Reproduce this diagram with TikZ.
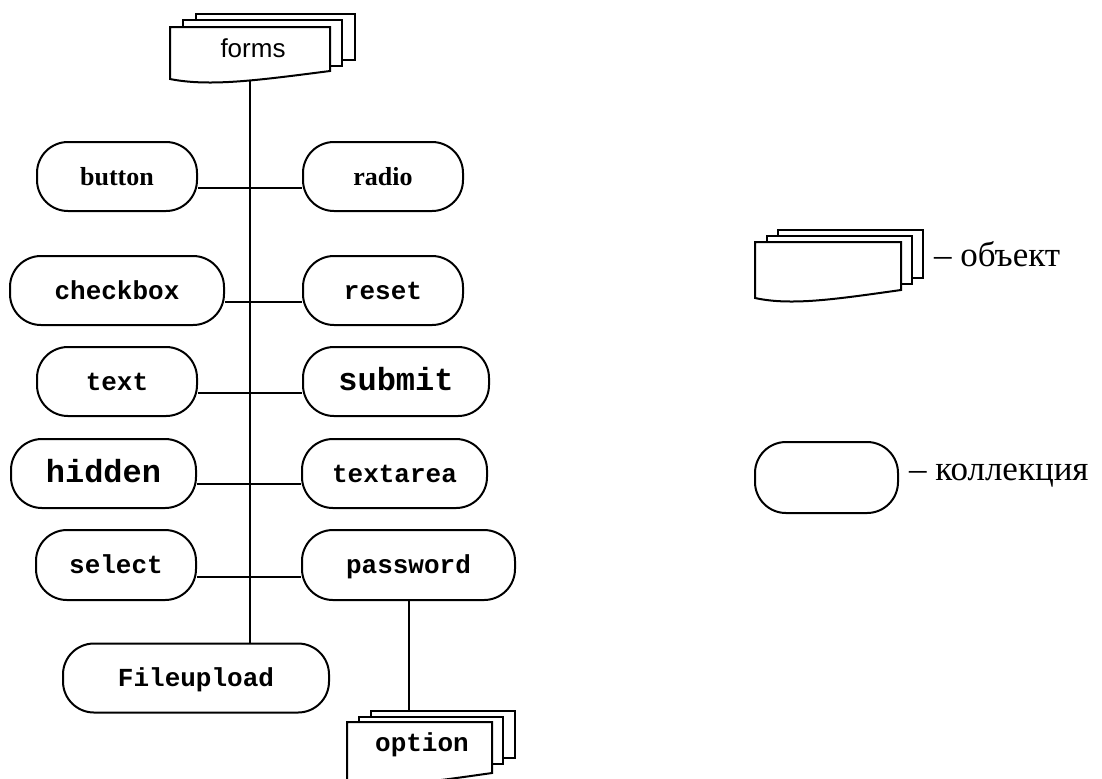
\documentclass[tikz,border=0pt]{standalone}
\usepackage{fontspec}
\setmainfont{Liberation Serif}
\newfontfamily\arialf{Liberation Sans}
\newfontfamily\courf{Liberation Mono}
\usetikzlibrary{calc}
\newcommand\docfront[4]{%
  \draw[sheet] (#1,#2) -- ({#1+#3},#2) -- ({#1+#3},{#4-8})
    .. controls ({#1+0.56*#3},{#4+1}) and ({#1+0.25*#3},{#4+8}) .. (#1,#4) -- cycle;}
\begin{document}
\begin{tikzpicture}[x=0.5pt,y=-0.5pt,line width=1pt,
  coll/.style={draw, rounded corners=15.5pt, minimum height=34.5pt, inner sep=0pt,
    text height=8.5pt, text depth=0pt},
  monof/.style={font=\courf\bfseries\fontsize{13}{15}\selectfont},
  bigmono/.style={font=\courf\bfseries\fontsize{16}{18}\selectfont},
  timesb/.style={font=\bfseries\fontsize{13}{15}\selectfont},
  legtext/.style={font=\fontsize{17.5}{19}\selectfont, inner sep=0pt, anchor=base west},
  sheet/.style={draw, fill=white},
  conn/.style={draw}]
\useasboundingbox (0,0) rectangle (1102,778);

% forms document
\draw[sheet] (196,14) rectangle (355,60);
\draw[sheet] (183,20) rectangle (342,66);
\docfront{170}{27}{160}{79}
\node[font=\arialf\fontsize{13}{15}\selectfont] (forms) at (253,48) {forms};
\coordinate (formsbot) at (250,81);

% collections
\node[coll, timesb, minimum width=80pt] (button) at (117,176.5) {button};
\node[coll, timesb, minimum width=80pt] (radio) at (383,176.5) {radio};
\node[coll, monof, minimum width=107pt] (checkbox) at (117,290.5) {checkbox};
\node[coll, monof, minimum width=80pt] (reset) at (383,290.5) {reset};
\node[coll, monof, minimum width=80pt] (text) at (117,381.5) {text};
\node[coll, bigmono, minimum width=93pt] (submit) at (396,381.5) {submit};
\node[coll, bigmono, minimum width=92.5pt] (hidden) at (103.5,473.5) {hidden};
\node[coll, monof, minimum width=92.5pt] (textarea) at (394.5,473.5) {textarea};
\node[coll, monof, minimum width=80pt, minimum height=35pt] (select) at (116,565) {select};
\node[coll, monof, minimum width=106.5pt, minimum height=35pt] (password) at (408.5,565) {password};
\node[coll, monof, minimum width=133pt] (fileupload) at (196,678) {Fileupload};

% trunk
\draw[conn] (formsbot) -- (formsbot |- fileupload.north);
\draw[conn] ($(button.east)+(0,11.5)$) -- ($(radio.west)+(0,11.5)$);
\draw[conn] ($(checkbox.east)+(0,11.5)$) -- ($(reset.west)+(0,11.5)$);
\draw[conn] ($(text.east)+(0,11.5)$) -- ($(submit.west)+(0,11.5)$);
\draw[conn] ($(hidden.east)+(0,10.5)$) -- ($(textarea.west)+(0,10.5)$);
\draw[conn] ($(select.east)+(0,11.5)$) -- ($(password.west)+(0,11.5)$);

% option document
\coordinate (optiontop) at (408.5,711);
\draw[conn] (password.south) -- (optiontop);
\draw[sheet] (371,711) rectangle (515,758);
\draw[sheet] (359,717) rectangle (503,764);
\docfront{347}{722}{145}{781}
\node[monof] (option) at (422,745) {option};

% legend
\draw[sheet] (778,230) rectangle (923,278);
\draw[sheet] (767,236) rectangle (912,284);
\docfront{755}{242}{146}{298}
\node[legtext] (legobj) at (933,266) {– объект};
\node[coll, minimum width=71.5pt, minimum height=35.5pt] (legcoll) at (826.5,477.5) {};
\node[legtext] (legcolltext) at (908,480) {– коллекция};
\end{tikzpicture}
\end{document}
